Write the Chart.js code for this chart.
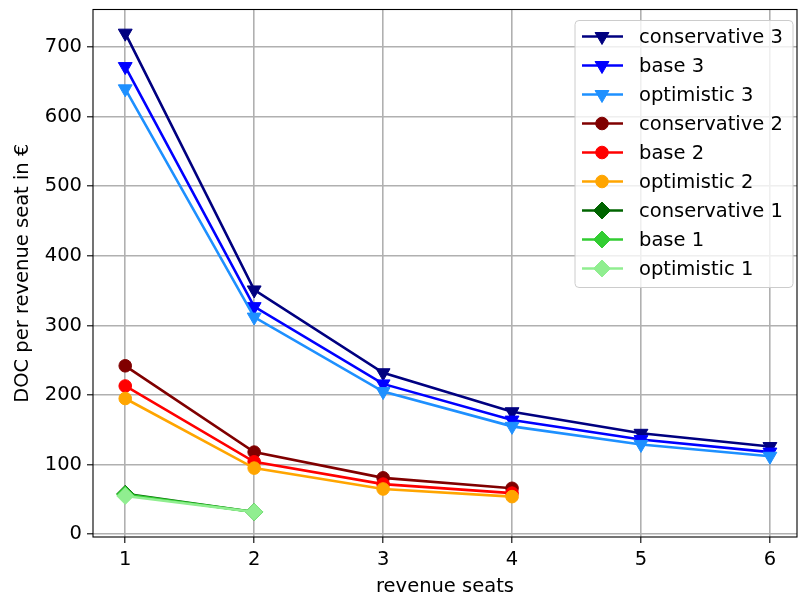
<!DOCTYPE html>
<html>
<head>
<meta charset="utf-8">
<script src="https://cdn.jsdelivr.net/npm/chart.js@4/dist/chart.umd.min.js"></script>
<style>
  html, body { margin: 0; padding: 0; background: #fff; }
  #wrap { width: 798px; height: 601px; }
</style>
</head>
<body>
<div id="wrap"><canvas id="chart" width="798" height="601"></canvas></div>
<script>
// revenue seats on the x axis
const seats = [1, 2, 3, 4, 5, 6];
const xTicks = [1, 2, 3, 4, 5, 6];
const yTicks = [0, 100, 200, 300, 400, 500, 600, 700];

// DOC per revenue seat, 3-seat configs
const conservative3 = [720, 351, 232, 176, 145, 126];
const base3 = [672, 327, 216, 164, 136, 118];
const optimistic3 = [640, 312, 205, 155, 129, 112];
// 2-seat configs
const conservative2 = [242, 118, 81, 66];
const base2 = [213, 104, 72, 59];
const optimistic2 = [195, 95, 65, 54];
// 1-seat configs
const conservative1 = [58, 32];
const base1 = [57, 32];
const optimistic1 = [55, 32];

const font = "'DejaVu Sans', sans-serif";
const fsize = 19.5;

function pts(vals) {
  return vals.map((v, i) => ({ x: seats[i], y: v }));
}

function series(label, vals, color, marker) {
  let style = 'circle', radius = 6.3, rot = 0;
  if (marker === 'v') { style = 'triangle'; radius = 8; rot = 180; }
  if (marker === 'D') { style = 'rectRot'; radius = 8.5; }
  return {
    label: label,
    data: pts(vals),
    borderColor: color,
    backgroundColor: color,
    borderWidth: 2.6,
    pointStyle: style,
    pointRadius: radius,
    pointRotation: rot,
    pointBorderWidth: 1,
    pointBorderColor: color,
    pointBackgroundColor: color,
    tension: 0,
    fill: false
  };
}

const datasets = [
  series('conservative 3', conservative3, '#000080', 'v'),
  series('base 3', base3, '#0000ff', 'v'),
  series('optimistic 3', optimistic3, '#1e90ff', 'v'),
  series('conservative 2', conservative2, '#800000', 'o'),
  series('base 2', base2, '#ff0000', 'o'),
  series('optimistic 2', optimistic2, '#ffa500', 'o'),
  series('conservative 1', conservative1, '#006400', 'D'),
  series('base 1', base1, '#32cd32', 'D'),
  series('optimistic 1', optimistic1, '#90ee90', 'D')
];
// later series on top, like the original
datasets.forEach((d, i) => { d.order = datasets.length - i; });

function noPad(s) {
  s.paddingLeft = 0; s.paddingRight = 0; s.paddingTop = 0; s.paddingBottom = 0;
}

// chart.js keeps some room on the right, stretch the plot to the edge
const stretchPlugin = {
  id: 'stretch',
  afterLayout(chart) {
    const a = chart.chartArea;
    const x = chart.scales.x;
    a.right = 797;
    a.width = a.right - a.left;
    x.right = 797;
    x.width = x.right - x.left;
    x.configure();
  }
};

// frame round the plot + legend inside it
const framePlugin = {
  id: 'frame',
  afterDraw(chart) {
    const ctx = chart.ctx;
    const a = chart.chartArea;
    ctx.save();
    ctx.strokeStyle = '#000';
    ctx.lineWidth = 1.1;
    ctx.strokeRect(a.left, a.top, a.right - a.left, a.bottom - a.top);

    // legend box
    const bw = 218, rowH = 29;
    const n = chart.data.datasets.length;
    const bx = a.right - 4 - bw, by = a.top + 11;
    const bh = 16 + (n - 1) * rowH + 19;
    ctx.beginPath();
    ctx.roundRect(bx, by, bw, bh, 4);
    ctx.fillStyle = 'rgba(255,255,255,0.8)';
    ctx.fill();
    ctx.strokeStyle = '#cccccc';
    ctx.lineWidth = 1;
    ctx.stroke();

    ctx.font = fsize + 'px ' + font;
    ctx.textBaseline = 'middle';
    chart.data.datasets.forEach((d, i) => {
      const y = by + 16 + i * rowH;
      ctx.strokeStyle = d.borderColor;
      ctx.lineWidth = d.borderWidth;
      ctx.beginPath();
      ctx.moveTo(bx + 7, y);
      ctx.lineTo(bx + 48, y);
      ctx.stroke();
      ctx.fillStyle = d.pointBackgroundColor;
      ctx.strokeStyle = d.pointBorderColor;
      ctx.lineWidth = 1;
      Chart.helpers.drawPoint(ctx, {
        pointStyle: d.pointStyle,
        radius: d.pointRadius,
        rotation: d.pointRotation,
        borderWidth: 1
      }, bx + 27, y);
      ctx.fillStyle = '#000';
      ctx.fillText(d.label, bx + 64, y + 1);
    });
    ctx.restore();
  }
};

new Chart(document.getElementById('chart'), {
  type: 'line',
  data: { datasets: datasets },
  plugins: [stretchPlugin, framePlugin],
  options: {
    responsive: false,
    animation: false,
    layout: { padding: { top: 8, right: 1, left: 0, bottom: 0 } },
    plugins: {
      legend: { display: false },
      tooltip: { enabled: false }
    },
    scales: {
      x: {
        type: 'linear',
        min: 0.75,
        max: 6.21,
        afterBuildTicks: s => { s.ticks = xTicks.map(v => ({ value: v })); },
        afterFit: s => { s.height = 64; noPad(s); },
        grid: { color: '#b0b0b0', lineWidth: 1.6, tickColor: '#000', tickLength: 6, tickWidth: 1.1 },
        border: { display: false },
        ticks: { color: '#000', font: { family: font, size: fsize }, padding: 5, maxRotation: 0 },
        title: { display: true, text: 'revenue seats', color: '#000', font: { family: font, size: fsize }, padding: { top: 0, bottom: 2 } }
      },
      y: {
        type: 'linear',
        min: -4,
        max: 754,
        afterBuildTicks: s => { s.ticks = yTicks.map(v => ({ value: v })); },
        afterFit: s => { s.width = 93; noPad(s); },
        grid: { color: '#b0b0b0', lineWidth: 1.6, tickColor: '#000', tickLength: 6, tickWidth: 1.1 },
        border: { display: false },
        ticks: { color: '#000', font: { family: font, size: fsize }, padding: 5 },
        title: { display: true, text: 'DOC per revenue seat in €', color: '#000', font: { family: font, size: fsize }, padding: { top: 11, bottom: 0 } }
      }
    }
  }
});
</script>
</body>
</html>
